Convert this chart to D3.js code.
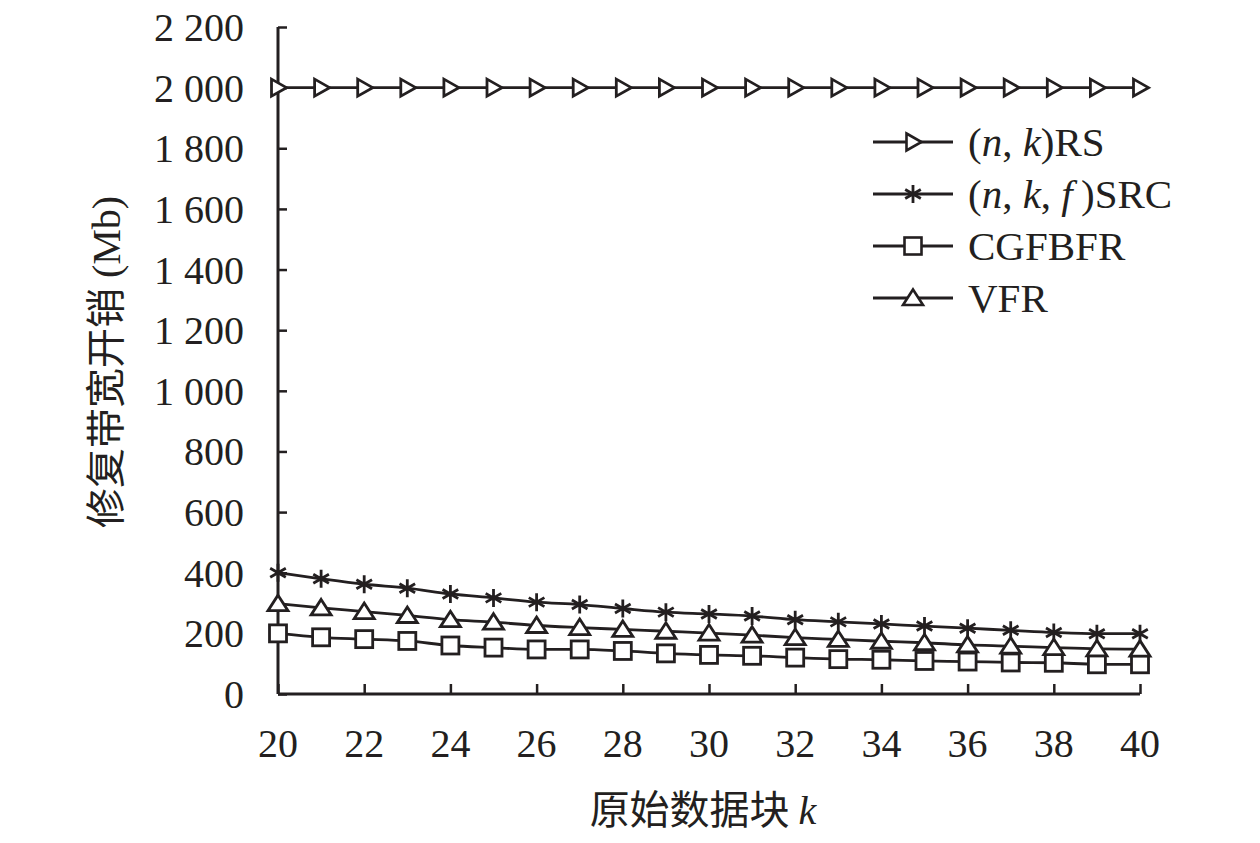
<!DOCTYPE html>
<html>
<head>
<meta charset="utf-8">
<script src="https://cdn.jsdelivr.net/npm/d3@7.9.0/dist/d3.min.js"></script>
<style>
  body { margin: 0; background: #fff; }
  svg text { font-family: "Liberation Serif", "Times New Roman", serif; fill: #231f20; }
  .cjk { font-family: "Noto Sans CJK SC", sans-serif; }
</style>
</head>
<body>
<svg id="chart" width="1260" height="843"></svg>
<script>
const kValues = d3.range(20, 41);
const rsValues = [2000, 2000, 2000, 2000, 2000, 2000, 2000, 2000, 2000, 2000, 2000, 2000, 2000, 2000, 2000, 2000, 2000, 2000, 2000, 2000, 2000];
const srcValues = [400, 380, 362, 349, 330, 317, 303, 295, 282, 270, 264, 257, 245, 238, 231, 224, 217, 210, 203, 199, 199];
const vfrValues = [298, 284, 272, 259, 245, 237, 226, 219, 213, 207, 201, 194, 186, 180, 174, 169, 162, 158, 153, 149, 148];
const cgfValues = [200, 187, 181, 175, 160, 153, 147, 147, 142, 134, 129, 126, 120, 115, 113, 109, 107, 104, 103, 98, 98];
const yTicks = [0, 200, 400, 600, 800, 1000, 1200, 1400, 1600, 1800, 2000, 2200];
const xTicks = [20, 22, 24, 26, 28, 30, 32, 34, 36, 38, 40];

const ink = '#231f20';
const svg = d3.select('#chart');

const x = d3.scaleLinear().domain([20, 40]).range([278, 1140]);
const y = d3.scaleLinear().domain([0, 2200]).range([694, 27]);

// axes
const yAxis = d3.axisRight(y).tickValues(yTicks).tickSize(9).tickFormat('');
const gy = svg.append('g').attr('transform', `translate(${x(20)},0)`).call(yAxis);
const xAxis = d3.axisTop(x).tickValues(xTicks).tickSize(10).tickFormat('');
const gx = svg.append('g').attr('transform', `translate(0,${y(0)})`).call(xAxis);
[gy, gx].forEach(g => {
  g.select('.domain').attr('stroke', ink).attr('stroke-width', 3);
  g.selectAll('.tick line').attr('stroke', ink).attr('stroke-width', 2.5);
});
gy.select('.domain').attr('d', `M0,${y(2200)}V${y(0)}`);
gx.select('.domain').attr('d', `M${x(20)},0H${x(40)}`);

svg.append('g').selectAll('text').data(yTicks).join('text')
  .attr('x', 244).attr('y', d => y(d) + 14)
  .attr('text-anchor', 'end').attr('font-size', 40)
  .text(d => d >= 1000 ? `${Math.floor(d / 1000)}\u00a0${String(d % 1000).padStart(3, '0')}` : d);

svg.append('g').selectAll('text').data(xTicks).join('text')
  .attr('x', d => x(d)).attr('y', 757)
  .attr('text-anchor', 'middle').attr('font-size', 40)
  .text(d => d);

// axis titles
const xt = svg.append('text').attr('x', 703).attr('y', 824).attr('text-anchor', 'middle').attr('font-size', 40);
xt.append('tspan').attr('class', 'cjk').text('原始数据块 ');
xt.append('tspan').attr('font-style', 'italic').text('k');

const yt = svg.append('text').attr('transform', 'translate(120,362) rotate(-90)')
  .attr('text-anchor', 'middle').attr('font-size', 40);
yt.append('tspan').attr('class', 'cjk').text('修复带宽开销');
yt.append('tspan').text(' (Mb)');

// markers
const markers = {
  rs: g => g.append('path').attr('d', 'M-6.5,-8.5L8.5,0L-6.5,8.5Z'),
  src: g => g.append('path').attr('d', 'M0,-9V9M-7.8,-4.5L7.8,4.5M-7.8,4.5L7.8,-4.5').attr('stroke-width', 2.8),
  cgf: g => g.append('rect').attr('x', -8.5).attr('y', -8.5).attr('width', 17).attr('height', 17),
  vfr: g => g.append('path').attr('d', 'M0,-8.5L10,7H-10Z')
};

const series = [
  { key: 'rs', values: rsValues },
  { key: 'cgf', values: cgfValues },
  { key: 'vfr', values: vfrValues },
  { key: 'src', values: srcValues }
];

const line = d3.line().x(d => x(d[0])).y(d => y(d[1])).curve(d3.curveMonotoneX);

series.forEach(s => {
  const pts = kValues.map((k, i) => [k, s.values[i]]);
  svg.append('path').datum(pts).attr('d', line)
    .attr('fill', 'none').attr('stroke', ink).attr('stroke-width', 2.8);
  svg.append('g').selectAll('g').data(pts).join('g')
    .attr('transform', d => `translate(${x(d[0])},${y(d[1])})`)
    .attr('stroke', ink).attr('stroke-width', 2.8)
    .each(function () { markers[s.key](d3.select(this)); })
    .selectAll('path,rect').attr('fill', s.key === 'src' ? 'none' : '#fff');
});

// legend
const legendRows = [
  { key: 'rs', y: 142, parts: [['(', ''], ['n', 'i'], [', ', ''], ['k', 'i'], [')RS', '']] },
  { key: 'src', y: 194, parts: [['(', ''], ['n', 'i'], [', ', ''], ['k', 'i'], [', ', ''], ['f', 'i'], ['\u2009)SRC', '']] },
  { key: 'cgf', y: 246, parts: [['CGFBFR', '']] },
  { key: 'vfr', y: 298, parts: [['VFR', '']] }
];

legendRows.forEach(r => {
  svg.append('line').attr('x1', 873).attr('x2', 953).attr('y1', r.y).attr('y2', r.y)
    .attr('stroke', ink).attr('stroke-width', 2.8);
  const g = svg.append('g').attr('transform', `translate(913,${r.y})`)
    .attr('stroke', ink).attr('stroke-width', 2.6).attr('fill', '#fff');
  markers[r.key](g);
  if (r.key === 'src') g.selectAll('path').attr('fill', 'none');
  const t = svg.append('text').attr('x', 968).attr('y', r.y + 14).attr('font-size', 41);
  r.parts.forEach(([txt, st]) => {
    t.append('tspan').attr('font-style', st === 'i' ? 'italic' : null).text(txt);
  });
});
</script>
</body>
</html>
